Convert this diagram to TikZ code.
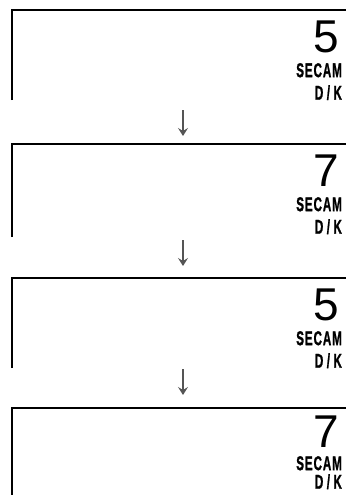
\documentclass[tikz,border=0pt]{standalone}
\usepackage{fontspec}
\usetikzlibrary{arrows.meta}
\newfontfamily\digitfont{Liberation Sans}
\newfontfamily\labfont[LetterSpace=8,FakeBold=1.5]{Liberation Sans Bold}
\definecolor{arrgray}{HTML}{555555}
\tikzset{
  panelline/.style={line width=2pt, black, line cap=butt},
  steparrow/.style={line width=2pt, arrgray, -{Stealth[length=8pt,width=10pt,inset=3pt]}},
  chan/.style={anchor=north east, inner sep=0pt, font=\digitfont\fontsize{46}{46}\selectfont},
  syslab/.style={anchor=north east, inner sep=0pt, xscale=0.58, font=\labfont\fontsize{20}{20}\selectfont},
}
\begin{document}
\begin{tikzpicture}[x=1pt,y=-1pt]
\useasboundingbox (0,0) rectangle (346,495);
% panels: top y, left line bottom y, channel, digit/label offsets
\foreach \i/\top/\bot/\ch/\dn/\sn/\kn in {1/10/100/5/11/53/75, 2/144/237/7/11/53/75, 3/278/368/5/11/53/75, 4/408/497/7/8/48/66}{
  \coordinate (tl\i) at (12,\top);
  \coordinate (tr\i) at (346,\top);
  \coordinate (bl\i) at (12,\bot);
  \draw[panelline] (bl\i) -- (tl\i) -- (tr\i);
  \node[chan] (num\i) at (339,\top+\dn) {\ch};
  \node[syslab] (sys\i) at (342,\top+\sn) {SECAM};
  \node[syslab] (dk\i) at (342,\top+\kn) {D\hspace{6pt}/\hspace{6pt}K};
}
\coordinate (a1s) at (183,110); \coordinate (a1e) at (183,136);
\coordinate (a2s) at (183,240); \coordinate (a2e) at (183,266);
\coordinate (a3s) at (183,369); \coordinate (a3e) at (183,395);
\draw[steparrow] (a1s) -- (a1e);
\draw[steparrow] (a2s) -- (a2e);
\draw[steparrow] (a3s) -- (a3e);
\end{tikzpicture}
\end{document}
